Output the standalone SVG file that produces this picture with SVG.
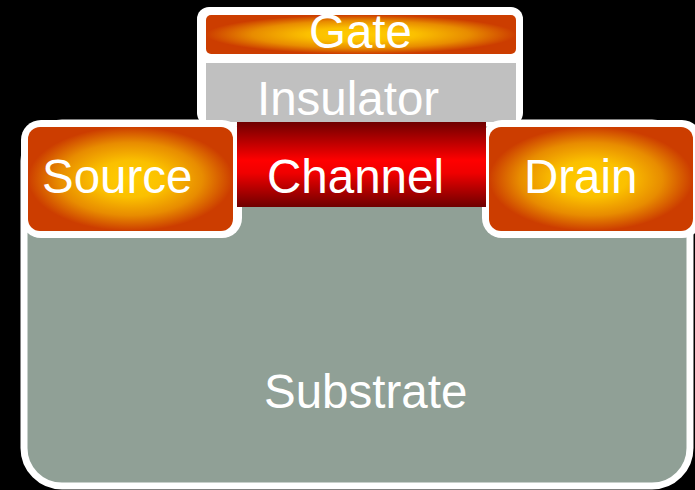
<svg xmlns="http://www.w3.org/2000/svg" width="695" height="490" viewBox="0 0 695 490">
  <defs>
    <radialGradient id="hot" cx="0.5" cy="0.5" r="0.5">
      <stop offset="0" stop-color="#FFCC00"/>
      <stop offset="0.35" stop-color="#FBC000"/>
      <stop offset="0.7" stop-color="#E88C00"/>
      <stop offset="1" stop-color="#CC3D00"/>
    </radialGradient>
    <linearGradient id="chan" x1="0" y1="0" x2="0" y2="1">
      <stop offset="0" stop-color="#6E0000"/>
      <stop offset="0.45" stop-color="#FF0000"/>
      <stop offset="0.6" stop-color="#F00000"/>
      <stop offset="1" stop-color="#6E0000"/>
    </linearGradient>
    <style>
      .lbl { font-family: "Liberation Sans", Arial, sans-serif; font-size: 47.5px; fill: #FFFFFF; }
      .rim { fill: #FFFFFF; }
    </style>
  </defs>
  <rect width="695" height="490" fill="#000000"/>

  <g id="substrate">
    <rect x="24" y="123" width="666" height="363" rx="38" fill="#90A096" stroke="#FFFFFF" stroke-width="7"/>
    <text class="lbl" x="264" y="408">Substrate</text>
  </g>

  <g id="gate-stack">
    <rect class="rim" x="197" y="7" width="326" height="118" rx="12"/>
    <g id="gate">
      <rect x="206" y="15" width="310" height="39" rx="5" fill="url(#hot)"/>
      <text class="lbl" x="309" y="48">Gate</text>
    </g>
    <g id="insulator">
      <rect x="206" y="63" width="310" height="59" fill="#C0C0C0"/>
      <text class="lbl" x="257" y="115">Insulator</text>
    </g>
  </g>

  <g id="source">
    <rect class="rim" x="21" y="120" width="221" height="118" rx="20"/>
    <rect x="28" y="127" width="205" height="104" rx="12" fill="url(#hot)"/>
    <text class="lbl" x="42" y="193">Source</text>
  </g>

  <g id="drain">
    <rect class="rim" x="482" y="120" width="220" height="118" rx="20"/>
    <rect x="489" y="127" width="204" height="104" rx="12" fill="url(#hot)"/>
    <text class="lbl" x="524" y="193">Drain</text>
  </g>

  <g id="channel">
    <rect x="237" y="122" width="249" height="85" fill="url(#chan)"/>
    <text class="lbl" x="267" y="193">Channel</text>
  </g>

  <g id="connectors"/>
</svg>
